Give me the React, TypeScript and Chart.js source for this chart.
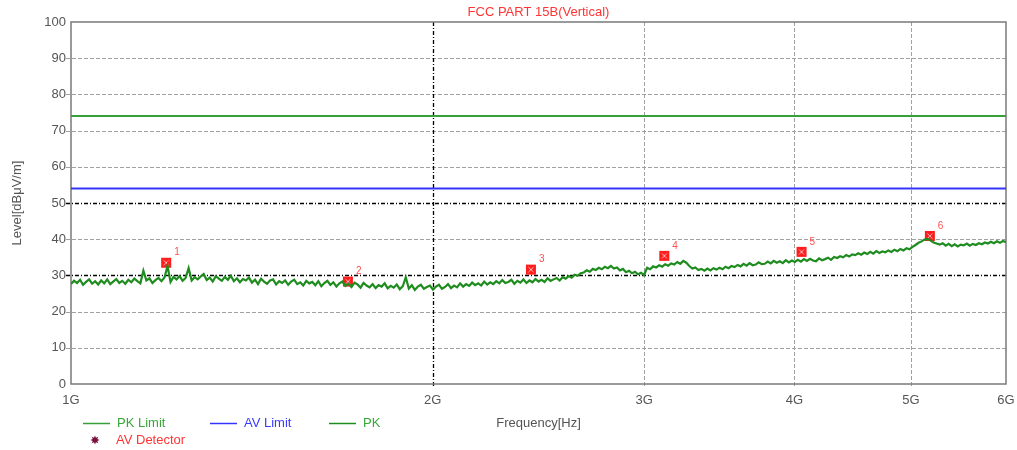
import { useEffect, useRef } from "react";
import { Chart, registerables } from "chart.js";

Chart.register(...registerables);

const TITLE = "FCC PART 15B(Vertical)";
const X_TITLE = "Frequency[Hz]";
const Y_TITLE = "Level[dBμV/m]";

const X_TICKS = [1, 2, 3, 4, 5, 6]; // GHz
const X_TICK_LABELS = ["1G", "2G", "3G", "4G", "5G", "6G"];
const X_BOLD = [2];
const Y_TICKS = [0, 10, 20, 30, 40, 50, 60, 70, 80, 90, 100];
const Y_BOLD = [30, 50];

const PK_LIMIT = 74;
const AV_LIMIT = 54;

const SWEEP_START_GHZ = 1;
const SWEEP_STOP_GHZ = 6;

const PK_TRACE = [
  27.6, 28.5, 27.9, 28.8, 27.4, 28.2, 28.9, 27.7, 28.4, 27.5,
  28.6, 27.8, 28.9, 27.6, 28.3, 29.0, 27.9, 28.5, 27.7, 28.8,
  28.1, 29.1, 28.4, 27.8, 31.3, 28.6, 29.2, 27.9, 28.7, 29.3,
  28.4, 29.4, 32.6, 28.2, 29.6, 28.9, 29.8, 28.5, 29.3, 32.0,
  28.6, 29.5, 28.9, 29.7, 30.4, 28.7, 29.4, 28.3, 29.8, 29.1,
  28.5, 29.6, 28.8, 29.9, 28.4, 29.2, 28.1, 29.0, 28.6, 29.4,
  28.0, 28.8, 27.6, 29.1, 28.3, 27.7, 28.6, 28.9, 27.5, 28.4,
  27.9, 28.6, 27.4, 28.3, 28.8, 27.6, 28.1, 27.2, 28.5, 27.8,
  28.2, 27.3, 28.4, 27.0, 27.9, 28.5, 27.4, 28.1, 26.9, 27.8,
  28.3, 27.1, 27.7, 26.8, 28.0, 27.5, 26.6, 27.9, 27.2, 26.7,
  27.6, 26.5, 27.3, 26.9, 27.8, 26.4, 27.1, 26.6, 27.5, 26.2,
  27.0, 29.5, 26.4, 27.3, 26.0, 26.9, 27.4, 26.3, 26.8, 27.2,
  26.1, 26.9, 27.4, 26.3, 26.8, 27.6, 26.5, 27.2, 26.7, 27.8,
  26.9, 27.6, 27.1, 28.0, 27.3, 27.8, 27.2, 28.3, 27.5, 28.1,
  27.6, 28.4, 27.8, 28.7, 27.9, 28.2, 28.8, 27.7, 28.5, 28.0,
  28.9, 27.9, 28.6, 28.1, 29.0, 28.3, 28.8, 28.2, 29.2, 28.5,
  28.9, 29.3, 28.6, 29.5, 29.1, 29.8, 29.4, 30.2, 29.9, 30.6,
  30.8, 31.4, 31.0, 31.8, 31.5, 32.1, 31.7, 32.4, 32.0, 32.6,
  31.9, 32.2, 31.4, 31.8, 30.9, 31.3, 30.6, 31.0, 30.3, 30.7,
  30.1, 32.1, 31.7, 32.5, 32.2, 32.8, 32.4, 33.1, 32.7, 33.3,
  33.0, 33.7, 33.2, 34.0, 33.5, 32.6, 31.9, 32.2, 31.5, 31.8,
  31.3, 31.9, 31.4, 32.0, 31.6, 32.1, 31.7, 32.4, 32.0, 32.6,
  32.3, 32.9, 32.5, 33.2, 32.7, 33.4, 32.8, 33.0, 33.6, 33.1,
  33.2, 33.8, 33.3, 34.0, 33.5, 33.9, 33.4, 34.2, 33.6, 34.1,
  33.7, 34.3, 33.8, 34.5, 34.0, 34.6, 34.1, 33.9, 34.7, 34.2,
  34.5, 34.9, 34.3, 35.1, 34.8, 35.3, 35.0, 35.6, 35.2, 35.8,
  35.6, 36.1, 35.7, 36.3, 35.9, 36.5, 36.0, 36.7, 36.2, 36.6,
  36.4, 36.9, 36.5, 37.1, 36.7, 37.3, 36.9, 37.5, 37.2, 37.9,
  38.4, 39.0, 39.4, 39.9, 40.1, 39.6, 39.1, 38.8, 38.5, 38.9,
  38.2, 38.7, 38.1, 38.6, 38.0, 38.5, 38.3, 38.8, 38.2, 38.7,
  38.4, 38.9, 38.6, 39.1, 38.8, 39.3, 38.9, 39.4, 39.0, 39.5, 39.2,
];

const MARKER_FREQ = [1.2, 1.7, 2.414, 3.117, 4.055, 5.185]; // GHz
const MARKER_LEVEL = [33.5, 28.3, 31.6, 35.4, 36.5, 40.9];
const MARKER_LABELS = ["1", "2", "3", "4", "5", "6"];

const LEGEND_ITEMS = ["PK Limit", "AV Limit", "PK", "AV Detector"];

const FONT = "'Liberation Sans', Arial, sans-serif";
const GREEN_LIMIT = "#38a038";
const BLUE_LIMIT = "#3434ff";
const GREEN_TRACE = "#1e8c1e";
const RED = "#ff3434";
const TICK_COLOR = "#555555";

function makeMarker(): HTMLCanvasElement {
  const c = document.createElement("canvas");
  c.width = 12;
  c.height = 12;
  const g = c.getContext("2d")!;
  g.fillStyle = "#ff1c1c";
  g.fillRect(1, 1, 10, 10);
  g.strokeStyle = "#ffb8b8";
  g.lineWidth = 1;
  g.beginPath();
  g.moveTo(3.5, 3.5);
  g.lineTo(8.5, 8.5);
  g.moveTo(8.5, 3.5);
  g.lineTo(3.5, 8.5);
  g.stroke();
  return c;
}

function drawStar(ctx: CanvasRenderingContext2D, cx: number, cy: number, r: number, color: string) {
  ctx.save();
  ctx.fillStyle = color;
  ctx.beginPath();
  const n = 8;
  for (let k = 0; k < n * 2; k++) {
    const ang = (Math.PI * k) / n;
    const rr = k % 2 === 0 ? r : r * 0.55;
    const px = cx + Math.cos(ang) * rr;
    const py = cy + Math.sin(ang) * rr;
    if (k === 0) ctx.moveTo(px, py);
    else ctx.lineTo(px, py);
  }
  ctx.closePath();
  ctx.fill();
  ctx.restore();
}

const decorPlugin = {
  id: "decor",
  beforeDatasetsDraw(chart: any) {
    const { ctx, chartArea: a, scales } = chart;
    const x = scales.x;
    const y = scales.y;
    ctx.save();
    Y_TICKS.forEach((v) => {
      if (v === Y_TICKS[0] || v === Y_TICKS[Y_TICKS.length - 1]) return;
      const py = Math.round(y.getPixelForValue(v)) + 0.5;
      const bold = Y_BOLD.includes(v);
      ctx.strokeStyle = bold ? "#000000" : "#a0a0a0";
      ctx.lineWidth = bold ? 1.3 : 1;
      ctx.setLineDash(bold ? [4, 2, 1, 2] : [4, 2]);
      ctx.beginPath();
      ctx.moveTo(a.left - 5, py);
      ctx.lineTo(a.right, py);
      ctx.stroke();
    });
    X_TICKS.forEach((v) => {
      if (v === X_TICKS[0] || v === X_TICKS[X_TICKS.length - 1]) return;
      const px = Math.round(x.getPixelForValue(v)) + 0.5;
      const bold = X_BOLD.includes(v);
      ctx.strokeStyle = bold ? "#000000" : "#a0a0a0";
      ctx.lineWidth = bold ? 1.3 : 1;
      ctx.setLineDash(bold ? [4, 2, 1, 2] : [4, 2]);
      ctx.beginPath();
      ctx.moveTo(px, a.top);
      ctx.lineTo(px, a.bottom + 2);
      ctx.stroke();
    });
    ctx.setLineDash([]);
    ctx.strokeStyle = "#7a7a7a";
    ctx.lineWidth = 1.5;
    ctx.strokeRect(a.left, a.top, a.right - a.left, a.bottom - a.top);
    ctx.restore();
  },
  afterDatasetsDraw(chart: any) {
    const { ctx, chartArea: a, scales } = chart;
    const x = scales.x;
    const y = scales.y;
    ctx.save();
    // marker numbers
    ctx.font = `10px ${FONT}`;
    ctx.fillStyle = "#ff5050";
    ctx.textAlign = "left";
    ctx.textBaseline = "middle";
    MARKER_FREQ.forEach((f, i) => {
      const px = x.getPixelForValue(f);
      const py = y.getPixelForValue(MARKER_LEVEL[i]);
      ctx.fillText(MARKER_LABELS[i], px + 8, py - 10);
    });
    // title
    const cx = (a.left + a.right) / 2;
    ctx.font = `13px ${FONT}`;
    ctx.textAlign = "center";
    ctx.fillStyle = RED;
    ctx.fillText(TITLE, cx, 12);
    // x title
    ctx.fillStyle = TICK_COLOR;
    ctx.fillText(X_TITLE, cx, 423);
    // y title
    ctx.save();
    ctx.translate(17, (a.top + a.bottom) / 2);
    ctx.rotate(-Math.PI / 2);
    ctx.fillText(Y_TITLE, 0, 0);
    ctx.restore();
    // legend
    const rowY = 423;
    const lines = [
      { x0: 83, color: GREEN_LIMIT, text: LEGEND_ITEMS[0], textColor: "#3aa63a" },
      { x0: 210, color: BLUE_LIMIT, text: LEGEND_ITEMS[1], textColor: "#3a3aff" },
      { x0: 329, color: GREEN_TRACE, text: LEGEND_ITEMS[2], textColor: "#3aa63a" },
    ];
    ctx.textAlign = "left";
    lines.forEach((l) => {
      ctx.strokeStyle = l.color;
      ctx.lineWidth = 1.5;
      ctx.beginPath();
      ctx.moveTo(l.x0, rowY + 0.5);
      ctx.lineTo(l.x0 + 27, rowY + 0.5);
      ctx.stroke();
      ctx.fillStyle = l.textColor;
      ctx.fillText(l.text, l.x0 + 34, rowY);
    });
    drawStar(ctx, 95, 440, 4.5, "#7a1040");
    ctx.fillStyle = RED;
    ctx.fillText(LEGEND_ITEMS[3], 116, 440);
    ctx.restore();
  },
};

export default function App() {
  const ref = useRef<HTMLCanvasElement | null>(null);

  useEffect(() => {
    document.body.style.margin = "0";
    const canvas = ref.current;
    if (!canvas) return;
    const n = PK_TRACE.length;
    const ratio = SWEEP_STOP_GHZ / SWEEP_START_GHZ;
    const trace = PK_TRACE.map((v, i) => ({
      x: SWEEP_START_GHZ * Math.pow(ratio, i / (n - 1)),
      y: v,
    }));
    const markers = MARKER_FREQ.map((f, i) => ({ x: f, y: MARKER_LEVEL[i] }));
    const markerImg = makeMarker();

    const chart = new Chart(canvas, {
      type: "line",
      data: {
        datasets: [
          {
            label: "PK Limit",
            data: [
              { x: SWEEP_START_GHZ, y: PK_LIMIT },
              { x: SWEEP_STOP_GHZ, y: PK_LIMIT },
            ],
            borderColor: GREEN_LIMIT,
            borderWidth: 2,
            pointRadius: 0,
          },
          {
            label: "AV Limit",
            data: [
              { x: SWEEP_START_GHZ, y: AV_LIMIT },
              { x: SWEEP_STOP_GHZ, y: AV_LIMIT },
            ],
            borderColor: BLUE_LIMIT,
            borderWidth: 2,
            pointRadius: 0,
          },
          {
            label: "PK",
            data: trace,
            borderColor: GREEN_TRACE,
            borderWidth: 2.2,
            pointRadius: 0,
            tension: 0,
          },
          {
            label: "AV Detector",
            data: markers,
            showLine: false,
            pointStyle: markerImg as any,
            pointRadius: 6,
          },
        ],
      },
      options: {
        responsive: false,
        animation: false,
        devicePixelRatio: 1,
        layout: { padding: { top: 22, right: 11, left: 0, bottom: 0 } },
        plugins: {
          legend: { display: false },
          title: { display: false },
          tooltip: { enabled: false },
        },
        events: [],
        scales: {
          x: {
            type: "logarithmic",
            min: SWEEP_START_GHZ,
            max: SWEEP_STOP_GHZ,
            grid: { display: false, drawTicks: false },
            border: { display: false },
            afterBuildTicks: (scale: any) => {
              scale.ticks = X_TICKS.map((v) => ({ value: v }));
            },
            afterFit: (scale: any) => {
              scale.height = 66;
              scale.paddingLeft = 0;
              scale.paddingRight = 0;
            },
            ticks: {
              autoSkip: false,
              maxRotation: 0,
              padding: 9,
              color: TICK_COLOR,
              font: { family: FONT, size: 13 },
              callback: (_v: any, i: number) => X_TICK_LABELS[i],
            },
          },
          y: {
            type: "linear",
            min: Y_TICKS[0],
            max: Y_TICKS[Y_TICKS.length - 1],
            grid: { display: false, drawTicks: false },
            border: { display: false },
            afterBuildTicks: (scale: any) => {
              scale.ticks = Y_TICKS.map((v) => ({ value: v }));
            },
            afterFit: (scale: any) => {
              scale.width = 71;
              scale.paddingTop = 0;
              scale.paddingBottom = 0;
            },
            ticks: {
              padding: 5,
              color: TICK_COLOR,
              font: { family: FONT, size: 13 },
              callback: (v: any) => String(v),
            },
          },
        },
      },
      plugins: [decorPlugin],
    });
    return () => chart.destroy();
  }, []);

  return (
    <canvas
      ref={ref}
      width={1017}
      height={450}
      style={{ display: "block", width: "1017px", height: "450px" }}
    />
  );
}
